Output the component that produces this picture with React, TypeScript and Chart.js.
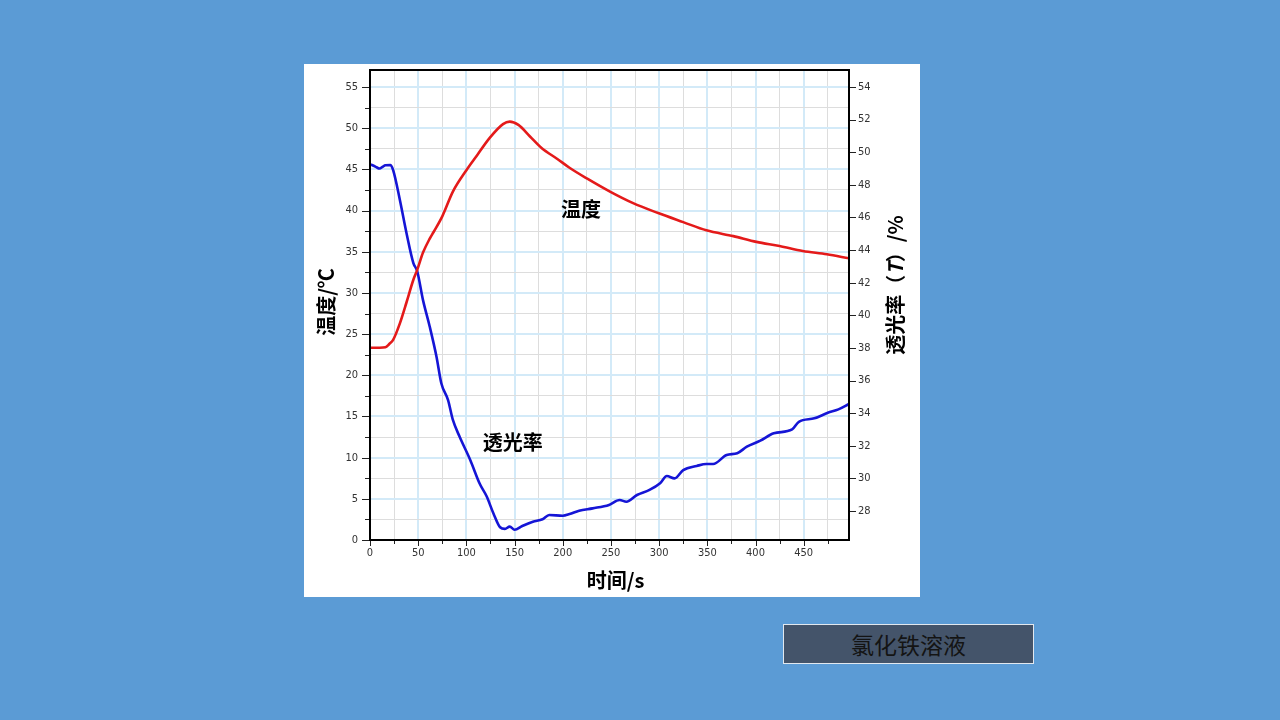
import React, { useEffect, useRef } from 'react';
import { Chart, registerables } from 'chart.js';

Chart.register(...registerables);

// ---- Data ----
const tempTimes = [0, 10, 16, 20, 24, 31, 38, 45, 49, 55, 62, 66, 75, 86, 100, 111, 124, 138, 145, 154, 166, 178, 194, 207, 225, 249, 273, 299, 325, 349, 377, 401, 425, 449, 474, 497];
const tempValues = [23.35, 23.35, 23.4, 23.8, 24.3, 26.3, 28.9, 31.6, 32.8, 34.9, 36.6, 37.4, 39.3, 42.3, 44.9, 46.7, 48.8, 50.5, 50.8, 50.4, 49.0, 47.6, 46.3, 45.2, 43.9, 42.3, 40.9, 39.7, 38.6, 37.6, 36.9, 36.2, 35.7, 35.1, 34.7, 34.2];

const transTimes = [0, 6, 10, 13, 16, 21, 24, 31, 38, 45, 49, 55, 62, 69, 74, 81, 86, 93, 104, 114, 121, 128, 135, 140, 145, 150, 158, 169, 179, 186, 200, 207, 217, 231, 248, 259, 266, 277, 290, 301, 308, 316, 325, 339, 349, 356, 370, 381, 391, 405, 419, 438, 445, 461, 475, 486, 497];
const transValues = [49.27, 49.1, 49.0, 49.1, 49.2, 49.21, 48.9, 47.07, 45.0, 43.2, 42.7, 40.93, 39.3, 37.46, 35.83, 34.8, 33.58, 32.55, 31.13, 29.65, 28.9, 27.86, 27.0, 26.9, 27.04, 26.85, 27.08, 27.34, 27.49, 27.75, 27.71, 27.81, 28.02, 28.16, 28.37, 28.67, 28.57, 28.98, 29.29, 29.7, 30.14, 30.0, 30.51, 30.76, 30.88, 30.88, 31.43, 31.54, 31.94, 32.31, 32.76, 33.0, 33.47, 33.68, 34.02, 34.23, 34.56];

const xTickValues = [0, 25, 50, 75, 100, 125, 150, 175, 200, 225, 250, 275, 300, 325, 350, 375, 400, 425, 450, 475];
const leftTickValues = [0, 2.5, 5, 7.5, 10, 12.5, 15, 17.5, 20, 22.5, 25, 27.5, 30, 32.5, 35, 37.5, 40, 42.5, 45, 47.5, 50, 52.5, 55];
const rightTickValues = [28, 30, 32, 34, 36, 38, 40, 42, 44, 46, 48, 50, 52, 54];

const xTitle = '时间/s';
const leftTitle = '温度/℃';
const rightTitleParts = ['透光率（', 'T', '）/%'];
const tempLabel = '温度';
const transLabel = '透光率';
const caption = '氯化铁溶液';

const CJK = '"Noto Sans CJK SC", "Noto Sans", sans-serif';
const TICK_FONT = '"Liberation Sans Narrow", "DejaVu Sans Condensed", "Liberation Sans", Arial, sans-serif';

const MAJOR_GRID = '#d3eaf8';
const MINOR_GRID = '#dddddd';

const decorPlugin = {
  id: 'decor',
  afterDraw(chart: any) {
    const { ctx, chartArea, scales } = chart;
    const { left, top, right, bottom } = chartArea;
    const midY = (top + bottom) / 2;
    ctx.save();
    // frame
    ctx.strokeStyle = '#000';
    ctx.lineWidth = 2;
    ctx.strokeRect(left, top, right - left, bottom - top);
    // tick marks
    ctx.lineWidth = 1;
    ctx.strokeStyle = '#222';
    ctx.beginPath();
    leftTickValues.forEach((v) => {
      const py = Math.round(scales.y.getPixelForValue(v)) + 0.5;
      const len = v % 5 === 0 ? 7 : 4;
      ctx.moveTo(left - len - 1, py);
      ctx.lineTo(left - 1, py);
    });
    rightTickValues.forEach((v) => {
      const py = Math.round(scales.y1.getPixelForValue(v)) + 0.5;
      ctx.moveTo(right + 1, py);
      ctx.lineTo(right + 7, py);
    });
    xTickValues.forEach((v) => {
      const px = Math.round(scales.x.getPixelForValue(v)) + 0.5;
      const len = v % 50 === 0 ? 5 : 3;
      ctx.moveTo(px, bottom + 1);
      ctx.lineTo(px, bottom + 1 + len);
    });
    ctx.stroke();

    // in-plot labels
    ctx.fillStyle = '#000';
    ctx.font = `bold 20px ${CJK}`;
    ctx.textAlign = 'center';
    ctx.textBaseline = 'middle';
    ctx.fillText(tempLabel, scales.x.getPixelForValue(219), scales.y.getPixelForValue(40.1));
    ctx.fillText(transLabel, scales.x.getPixelForValue(148), scales.y.getPixelForValue(11.8));

    // axis titles
    ctx.font = `bold 20px ${CJK}`;
    ctx.fillText(xTitle, (left + right) / 2 + 6, bottom + 40);

    ctx.save();
    ctx.translate(left - 44, midY - 3);
    ctx.rotate(-Math.PI / 2);
    ctx.fillText(leftTitle, 0, 0);
    ctx.restore();

    // right title, reading bottom to top, with italic T
    ctx.save();
    const fonts = [`bold 20px ${CJK}`, `italic bold 20px ${CJK}`, `bold 20px ${CJK}`];
    const widths = rightTitleParts.map((p, i) => {
      ctx.font = fonts[i];
      return ctx.measureText(p).width;
    });
    const total = widths.reduce((a, b) => a + b, 0);
    ctx.translate(right + 46, midY - 20);
    ctx.rotate(-Math.PI / 2);
    ctx.textAlign = 'left';
    let cx = -total / 2;
    rightTitleParts.forEach((p, i) => {
      ctx.font = fonts[i];
      ctx.fillText(p, cx, 0);
      cx += widths[i];
    });
    ctx.restore();

    ctx.restore();
  },
};

function ChartPanel() {
  const ref = useRef<HTMLCanvasElement | null>(null);
  useEffect(() => {
    if (!ref.current) return;
    const tempData = tempTimes.map((t, i) => ({ x: t, y: tempValues[i] }));
    const transData = transTimes.map((t, i) => ({ x: t, y: transValues[i] }));
    const isMajor = (ctx: any) => {
      const v = ctx.tick ? ctx.tick.value : 0;
      return ctx.scale.axis === 'x' ? v % 50 === 0 : v % 5 === 0;
    };
    const gridColor = (ctx: any) => (isMajor(ctx) ? MAJOR_GRID : MINOR_GRID);
    const gridWidth = (ctx: any) => (isMajor(ctx) ? 2 : 1);
    const zeroPad = (s: any) => {
      s.paddingTop = 0;
      s.paddingBottom = 0;
      s.paddingLeft = 0;
      s.paddingRight = 0;
    };
    const chart = new Chart(ref.current, {
      type: 'line',
      data: {
        datasets: [
          {
            label: tempLabel,
            data: tempData,
            yAxisID: 'y',
            borderColor: '#e41a1a',
            borderWidth: 2.6,
            pointRadius: 0,
            cubicInterpolationMode: 'monotone',
          },
          {
            label: transLabel,
            data: transData,
            yAxisID: 'y1',
            borderColor: '#1515d6',
            borderWidth: 2.6,
            pointRadius: 0,
            cubicInterpolationMode: 'monotone',
          },
        ],
      },
      options: {
        animation: false,
        responsive: false,
        layout: { padding: { top: 6, left: 0, right: 0, bottom: 0 } },
        plugins: { legend: { display: false }, tooltip: { enabled: false } },
        scales: {
          x: {
            type: 'linear',
            min: 0,
            max: 497,
            afterBuildTicks: (s: any) => { s.ticks = xTickValues.map((v) => ({ value: v })); },
            afterFit: (s: any) => { s.height = 57; zeroPad(s); },
            grid: { color: gridColor, lineWidth: gridWidth, drawTicks: false },
            border: { display: false },
            ticks: {
              padding: 7,
              maxRotation: 0,
              autoSkip: false,
              color: '#333',
              font: { family: TICK_FONT, size: 11 },
              callback: (v: any) => (v % 50 === 0 ? String(v) : ''),
            },
          },
          y: {
            type: 'linear',
            position: 'left',
            min: 0,
            max: 57.07,
            afterBuildTicks: (s: any) => { s.ticks = leftTickValues.map((v) => ({ value: v })); },
            afterFit: (s: any) => { s.width = 66; zeroPad(s); },
            grid: { color: gridColor, lineWidth: gridWidth, drawTicks: false },
            border: { display: false },
            ticks: {
              padding: 12,
              autoSkip: false,
              color: '#333',
              font: { family: TICK_FONT, size: 11 },
              callback: (v: any) => (v % 5 === 0 ? String(v) : ''),
            },
          },
          y1: {
            type: 'linear',
            position: 'right',
            min: 26.22,
            max: 55.04,
            afterBuildTicks: (s: any) => { s.ticks = rightTickValues.map((v) => ({ value: v })); },
            afterFit: (s: any) => { s.width = 71; zeroPad(s); },
            grid: { drawOnChartArea: false, drawTicks: false },
            border: { display: false },
            ticks: {
              padding: 9,
              autoSkip: false,
              color: '#333',
              font: { family: TICK_FONT, size: 11 },
              callback: (v: any) => String(v),
            },
          },
        },
      },
      plugins: [decorPlugin],
    } as any);
    return () => chart.destroy();
  }, []);
  return <canvas ref={ref} width={616} height={533} style={{ display: 'block', width: 616, height: 533 }} />;
}

export default function App() {
  return (
    <div style={{ position: 'fixed', left: 0, top: 0, width: 1280, height: 720, background: '#5b9bd5', overflow: 'hidden' }}>
      <div style={{ position: 'absolute', left: 304, top: 64, width: 616, height: 533, background: '#fff' }}>
        <ChartPanel />
      </div>
      <div
        style={{
          position: 'absolute',
          left: 783,
          top: 624,
          width: 251,
          height: 40,
          boxSizing: 'border-box',
          border: '1px solid #e2e8ef',
          background: '#44546a',
          display: 'flex',
          alignItems: 'center',
          justifyContent: 'center',
          fontFamily: CJK,
          fontSize: 23,
          color: '#141414',
          letterSpacing: 0,
        }}
      >
        {caption}
      </div>
    </div>
  );
}
